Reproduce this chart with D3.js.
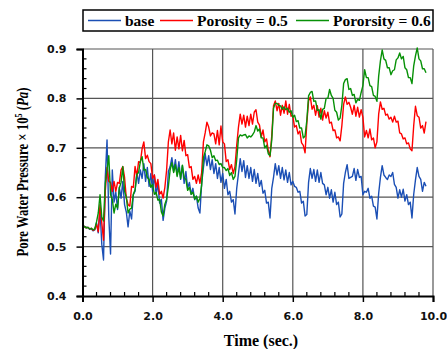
<!DOCTYPE html>
<html>
<head>
<meta charset="utf-8">
<script src="https://cdn.jsdelivr.net/npm/d3@7"></script>
<style>
  body { margin: 0; background: #fff; }
  .tick-label { font-family: 'DejaVu Sans', Verdana, sans-serif; font-weight: bold; font-size: 11px; fill: #111; }
  .title { font-family: 'Liberation Serif', 'Times New Roman', serif; font-weight: bold; fill: #000; }
</style>
</head>
<body>
<div id="chart"></div>
<script>
// sampling step of the records (sec.)
const timeStep = 0.05

const seriesNames = ['base', 'Porosity = 0.5', 'Pororsity = 0.6']
const seriesColors = ['#1b4fb5', '#ff0000', '#079107']

const xTicks = [0, 2, 4, 6, 8, 10]
const yTicks = [0.4, 0.5, 0.6, 0.7, 0.8, 0.9]

// pore water pressure x 1e5 Pa, one value per timeStep
const base = [
  0.540, 0.541, 0.538, 0.539, 0.535, 0.536, 0.532, 0.534, 0.548, 0.528, 0.574, 0.505, 0.473, 0.640, 0.716, 0.560, 0.485, 0.655, 0.590, 0.610,
  0.575, 0.620, 0.598, 0.632, 0.585, 0.570, 0.540, 0.572, 0.556, 0.605, 0.612, 0.650, 0.628, 0.655, 0.638, 0.668, 0.632, 0.660, 0.622, 0.648,
  0.612, 0.645, 0.605, 0.628, 0.588, 0.596, 0.553, 0.578, 0.592, 0.652, 0.662, 0.680, 0.652, 0.676, 0.645, 0.672, 0.636, 0.664, 0.628, 0.652,
  0.618, 0.630, 0.606, 0.618, 0.595, 0.602, 0.578, 0.568, 0.628, 0.660, 0.688, 0.664, 0.684, 0.656, 0.676, 0.648, 0.668, 0.638, 0.660, 0.630,
  0.648, 0.618, 0.636, 0.605, 0.612, 0.590, 0.595, 0.566, 0.618, 0.648, 0.678, 0.652, 0.674, 0.640, 0.664, 0.638, 0.660, 0.632, 0.656, 0.628,
  0.648, 0.622, 0.634, 0.608, 0.614, 0.588, 0.590, 0.558, 0.618, 0.640, 0.668, 0.645, 0.664, 0.638, 0.660, 0.635, 0.655, 0.630, 0.650, 0.625,
  0.632, 0.622, 0.620, 0.610, 0.612, 0.588, 0.592, 0.562, 0.565, 0.630, 0.658, 0.638, 0.656, 0.632, 0.655, 0.630, 0.650, 0.628, 0.625, 0.605,
  0.620, 0.598, 0.615, 0.590, 0.610, 0.585, 0.590, 0.560, 0.566, 0.628, 0.650, 0.666, 0.638, 0.640, 0.642, 0.658, 0.634, 0.656, 0.640, 0.642,
  0.605, 0.612, 0.610, 0.618, 0.598, 0.602, 0.582, 0.580, 0.556, 0.608, 0.640, 0.664, 0.645, 0.640, 0.636, 0.645, 0.642, 0.650, 0.626, 0.620,
  0.598, 0.615, 0.600, 0.616, 0.592, 0.605, 0.585, 0.590, 0.558, 0.606, 0.635, 0.660, 0.642, 0.636, 0.612, 0.630, 0.622
]

const porosity05 = [
  0.540, 0.541, 0.538, 0.539, 0.536, 0.537, 0.533, 0.535, 0.545, 0.530, 0.585, 0.548, 0.513, 0.612, 0.660, 0.632, 0.630, 0.612, 0.632, 0.612,
  0.630, 0.628, 0.655, 0.662, 0.640, 0.598, 0.585, 0.582, 0.622, 0.620, 0.662, 0.642, 0.672, 0.670, 0.698, 0.712, 0.678, 0.685, 0.672, 0.668,
  0.638, 0.645, 0.620, 0.636, 0.606, 0.612, 0.598, 0.620, 0.655, 0.712, 0.736, 0.708, 0.730, 0.695, 0.722, 0.698, 0.725, 0.694, 0.715, 0.684,
  0.686, 0.660, 0.662, 0.636, 0.642, 0.628, 0.645, 0.628, 0.650, 0.712, 0.730, 0.752, 0.742, 0.724, 0.730, 0.728, 0.708, 0.735, 0.706, 0.744,
  0.712, 0.708, 0.672, 0.676, 0.656, 0.666, 0.648, 0.662, 0.705, 0.742, 0.768, 0.748, 0.766, 0.742, 0.764, 0.745, 0.768, 0.748, 0.772, 0.777,
  0.752, 0.746, 0.722, 0.736, 0.712, 0.718, 0.695, 0.682, 0.725, 0.785, 0.795, 0.775, 0.790, 0.766, 0.786, 0.770, 0.795, 0.768, 0.788, 0.764,
  0.765, 0.742, 0.745, 0.728, 0.734, 0.710, 0.705, 0.690, 0.750, 0.795, 0.803, 0.778, 0.786, 0.766, 0.785, 0.762, 0.780, 0.756, 0.775, 0.760,
  0.772, 0.750, 0.752, 0.735, 0.736, 0.720, 0.722, 0.714, 0.745, 0.788, 0.803, 0.788, 0.792, 0.782, 0.768, 0.786, 0.764, 0.782, 0.762, 0.777,
  0.762, 0.722, 0.735, 0.720, 0.738, 0.716, 0.720, 0.700, 0.712, 0.768, 0.793, 0.778, 0.780, 0.766, 0.768, 0.758, 0.762, 0.752, 0.764, 0.752,
  0.754, 0.730, 0.728, 0.718, 0.720, 0.708, 0.710, 0.698, 0.694, 0.745, 0.784, 0.765, 0.762, 0.740, 0.745, 0.730, 0.753
]

const porosity06 = [
  0.540, 0.541, 0.538, 0.539, 0.536, 0.537, 0.534, 0.536, 0.550, 0.568, 0.605, 0.560, 0.552, 0.628, 0.655, 0.684, 0.605, 0.596, 0.568, 0.586,
  0.578, 0.618, 0.630, 0.662, 0.612, 0.600, 0.568, 0.576, 0.578, 0.606, 0.615, 0.646, 0.650, 0.672, 0.682, 0.655, 0.656, 0.640, 0.636, 0.620,
  0.626, 0.606, 0.610, 0.594, 0.596, 0.570, 0.562, 0.586, 0.596, 0.622, 0.655, 0.670, 0.650, 0.666, 0.642, 0.660, 0.638, 0.665, 0.640, 0.636,
  0.614, 0.620, 0.606, 0.610, 0.596, 0.602, 0.590, 0.598, 0.625, 0.680, 0.692, 0.706, 0.704, 0.695, 0.680, 0.684, 0.674, 0.675, 0.666, 0.668,
  0.660, 0.660, 0.654, 0.658, 0.644, 0.650, 0.636, 0.642, 0.676, 0.720, 0.726, 0.724, 0.726, 0.727, 0.720, 0.724, 0.722, 0.726, 0.732, 0.745,
  0.734, 0.738, 0.720, 0.720, 0.700, 0.705, 0.688, 0.684, 0.716, 0.780, 0.790, 0.790, 0.786, 0.785, 0.778, 0.783, 0.777, 0.780, 0.772, 0.775,
  0.762, 0.766, 0.753, 0.755, 0.740, 0.740, 0.720, 0.724, 0.755, 0.805, 0.812, 0.814, 0.794, 0.795, 0.776, 0.777, 0.758, 0.778, 0.780, 0.800,
  0.800, 0.818, 0.806, 0.800, 0.776, 0.772, 0.756, 0.760, 0.786, 0.830, 0.838, 0.840, 0.818, 0.820, 0.806, 0.808, 0.791, 0.798, 0.796, 0.812,
  0.826, 0.858, 0.842, 0.842, 0.826, 0.824, 0.806, 0.804, 0.794, 0.845, 0.876, 0.898, 0.880, 0.877, 0.862, 0.862, 0.848, 0.856, 0.858, 0.878,
  0.882, 0.892, 0.880, 0.885, 0.862, 0.858, 0.842, 0.842, 0.830, 0.866, 0.886, 0.902, 0.880, 0.876, 0.860, 0.860, 0.852
]

const series = [base, porosity05, porosity06]

const margin = { top: 49, right: 14, bottom: 53, left: 82.5 }
const width = 447 - margin.left - margin.right
const height = 349 - margin.top - margin.bottom

const root = d3.select('#chart')
  .append('svg')
  .attr('width', 447)
  .attr('height', 349)

const svg = root.append('g')
  .attr('transform', 'translate(' + margin.left + ',' + margin.top + ')')

const x = d3.scaleLinear().domain([0, 10]).range([0, width])
const y = d3.scaleLinear().domain([0.4, 0.9]).range([height, 0])

// grid
svg.append('g')
  .selectAll('line')
  .data(xTicks.slice(1))
  .enter()
  .append('line')
  .attr('x1', d => x(d)).attr('x2', d => x(d))
  .attr('y1', 0).attr('y2', height)
  .attr('stroke', '#555').attr('stroke-width', 1.2)

svg.append('g')
  .selectAll('line')
  .data(yTicks.slice(1))
  .enter()
  .append('line')
  .attr('x1', 0).attr('x2', width)
  .attr('y1', d => y(d)).attr('y2', d => y(d))
  .attr('stroke', '#555').attr('stroke-width', 1.2)

// minor ticks, inside
const xMinor = d3.range(0, 10.001, 0.4).filter(d => Math.abs(d / 2 - Math.round(d / 2)) > 0.01)
const yMinor = d3.range(0.4, 0.9001, 0.02).filter(d => Math.abs(d * 10 - Math.round(d * 10)) > 0.01)

svg.append('g')
  .selectAll('line')
  .data(xMinor)
  .enter()
  .append('line')
  .attr('x1', d => x(d)).attr('x2', d => x(d))
  .attr('y1', height).attr('y2', height - 4)
  .attr('stroke', '#000').attr('stroke-width', 1.2)

svg.append('g')
  .selectAll('line')
  .data(yMinor)
  .enter()
  .append('line')
  .attr('x1', 0).attr('x2', 4)
  .attr('y1', d => y(d)).attr('y2', d => y(d))
  .attr('stroke', '#000').attr('stroke-width', 1.2)

// data lines
const line = d3.line()
  .x((d, i) => x(i * timeStep))
  .y(d => y(d))

series.forEach((values, k) => {
  svg.append('path')
    .datum(values)
    .attr('fill', 'none')
    .attr('stroke', seriesColors[k])
    .attr('stroke-width', 1.4)
    .attr('stroke-linejoin', 'round')
    .attr('d', line)
})

// axes
const xAxis = d3.axisBottom(x).tickValues(xTicks).tickSize(6).tickFormat(d3.format('.1f'))
const yAxis = d3.axisLeft(y).tickValues(yTicks).tickSize(6).tickFormat(d3.format('.1f'))

const gx = svg.append('g')
  .attr('transform', 'translate(0,' + height + ')')
  .call(xAxis)
gx.select('.domain').attr('stroke', '#000').attr('stroke-width', 2)
gx.selectAll('.tick line').attr('stroke', '#000').attr('stroke-width', 1.5)
gx.selectAll('.tick text').attr('class', 'tick-label').attr('dy', null).attr('y', 24)

const gy = svg.append('g').call(yAxis)
gy.select('.domain').attr('stroke', '#000').attr('stroke-width', 2)
gy.selectAll('.tick line').attr('stroke', '#000').attr('stroke-width', 1.5)
gy.selectAll('.tick text').attr('class', 'tick-label').attr('x', -16)

// axis titles
root.append('text')
  .attr('class', 'title')
  .attr('x', 261)
  .attr('y', 346)
  .attr('text-anchor', 'middle')
  .style('font-size', '16px')
  .text('Time (sec.)')

const yTitle = root.append('text')
  .attr('class', 'title')
  .attr('transform', 'translate(28,172) rotate(-90)')
  .attr('text-anchor', 'middle')
  .attr('textLength', 169)
  .attr('lengthAdjust', 'spacingAndGlyphs')
  .style('font-size', '16px')
yTitle.append('tspan').text('Pore Water Pressure × 10')
yTitle.append('tspan').attr('dy', -6).style('font-size', '10px').text('5')
yTitle.append('tspan').attr('dy', 6).text(' (')
yTitle.append('tspan').style('font-style', 'italic').text('Pa')
yTitle.append('tspan').text(')')

// legend
const legend = root.append('g')
legend.append('rect')
  .attr('x', 83).attr('y', 10)
  .attr('width', 350).attr('height', 21)
  .attr('fill', '#fff')
  .attr('stroke', '#000').attr('stroke-width', 1.5)

const legendX = [88, 160, 296]
seriesNames.forEach((name, k) => {
  legend.append('line')
    .attr('x1', legendX[k]).attr('x2', legendX[k] + 33)
    .attr('y1', 20.5).attr('y2', 20.5)
    .attr('stroke', seriesColors[k]).attr('stroke-width', 1.3)
  legend.append('text')
    .attr('class', 'title')
    .attr('x', legendX[k] + 37)
    .attr('y', 26)
    .style('font-size', '15.5px')
    .text(name)
})
</script>
</body>
</html>
